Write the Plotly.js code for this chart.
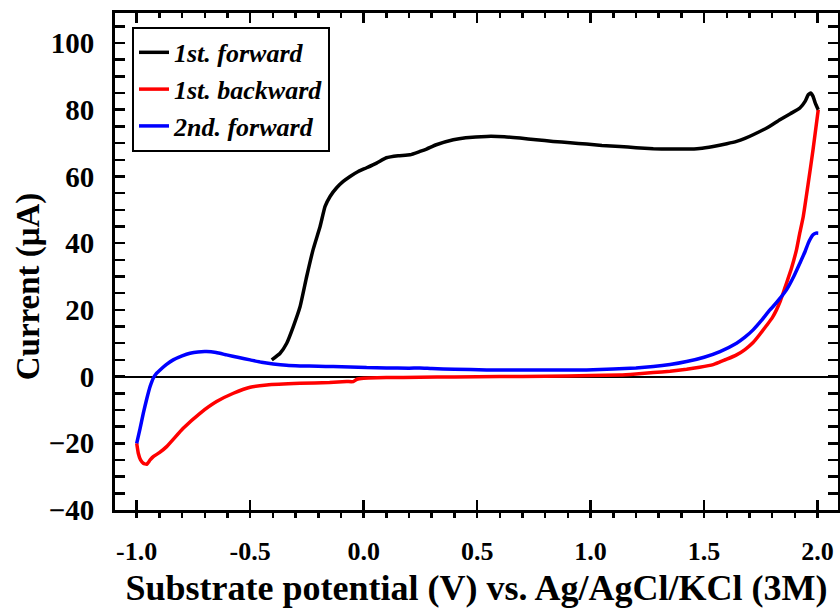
<!DOCTYPE html>
<html>
<head>
<meta charset="utf-8">
<script src="https://cdn.plot.ly/plotly-3.0.1.min.js"></script>
<style>html,body{margin:0;padding:0;background:#fff;}#chart{width:840px;height:614px;}</style>
</head>
<body>
<div id="chart"></div>
<script>
// 1st forward scan (black)
var fwd1X = [-0.405, -0.368, -0.339, -0.31, -0.28, -0.251, -0.223, -0.192, -0.17, -0.148, -0.119, -0.09, -0.06, -0.024, 0.013, 0.057, 0.10, 0.152, 0.204, 0.248, 0.277, 0.32, 0.395, 0.45, 0.542, 0.62, 0.689, 0.76, 0.835, 0.91, 0.982, 1.05, 1.129, 1.2, 1.276, 1.35, 1.423, 1.48, 1.54, 1.6, 1.643, 1.68, 1.716, 1.78, 1.834, 1.88, 1.922, 1.945, 1.959, 1.97, 1.98, 1.99, 2.003];
var fwd1Y = [5.0, 7.0, 10, 15, 21, 30, 38, 45, 51, 54, 56.6, 58.5, 60, 61.5, 62.6, 64, 65.6, 66.2, 66.5, 67.5, 68.2, 69.5, 71, 71.6, 72, 71.9, 71.5, 71, 70.5, 70.1, 69.7, 69.3, 69, 68.6, 68.3, 68.2, 68.2, 68.4, 69, 69.8, 70.5, 71.4, 72.5, 74.7, 77, 78.8, 80.5, 82.5, 84.5, 85, 84, 82, 80];
// 1st backward scan (red)
var bwd1X = [2.003, 1.98, 1.959, 1.937, 1.92, 1.907, 1.885, 1.863, 1.848, 1.834, 1.819, 1.8, 1.775, 1.745, 1.716, 1.68, 1.643, 1.6, 1.57, 1.54, 1.48, 1.423, 1.35, 1.276, 1.2, 1.129, 1.0, 0.8, 0.6, 0.4, 0.248, 0.1, 0.0, -0.03, -0.046, -0.075, -0.15, -0.28, -0.427, -0.5, -0.574, -0.648, -0.721, -0.795, -0.868, -0.9, -0.927, -0.941, -0.956, -0.971, -0.983, -0.993, -1.0];
var bwd1Y = [80, 68, 58, 48, 42.5, 38, 32.5, 28, 25, 22.3, 20, 17.6, 15.3, 12.6, 10.2, 8.1, 6.5, 5.2, 4.4, 3.6, 2.8, 2.2, 1.6, 1.2, 0.8, 0.5, 0.3, 0.1, 0.0, -0.1, -0.2, -0.3, -0.5, -0.8, -1.5, -1.5, -1.8, -2, -2.5, -3.2, -5, -7.5, -11, -15.5, -21, -22.8, -24, -25, -26.3, -26, -25, -23, -20];
// 2nd forward scan (blue)
var fwd2X = [-1.0, -0.985, -0.971, -0.955, -0.941, -0.927, -0.912, -0.897, -0.87, -0.839, -0.8, -0.765, -0.73, -0.692, -0.65, -0.604, -0.55, -0.5, -0.45, -0.398, -0.34, -0.28, -0.2, -0.134, -0.06, 0.013, 0.1, 0.2, 0.248, 0.3, 0.4, 0.542, 0.7, 0.85, 0.982, 1.1, 1.2, 1.276, 1.35, 1.423, 1.5, 1.57, 1.643, 1.68, 1.716, 1.75, 1.79, 1.804, 1.835, 1.863, 1.895, 1.922, 1.945, 1.959, 1.97, 1.98, 1.993, 2.003];
var fwd2Y = [-20, -15.5, -11, -6.5, -3, -0.5, 1, 2, 3.6, 5, 6.2, 7, 7.4, 7.5, 7.2, 6.5, 5.7, 5, 4.3, 3.8, 3.4, 3.2, 3.1, 3, 2.9, 2.7, 2.6, 2.5, 2.6, 2.4, 2.2, 2, 2, 2, 2, 2.3, 2.6, 3, 3.6, 4.5, 5.8, 7.5, 10, 11.8, 14, 16.6, 20, 21, 23.5, 26, 30, 34, 37.5, 40, 41.5, 42.5, 43, 43];

var seriesNames = ['1st. forward', '1st. backward', '2nd. forward'];
var xTickVals = [-1.0, -0.5, 0.0, 0.5, 1.0, 1.5, 2.0];
var yTickVals = [-40, -20, 0, 20, 40, 60, 80, 100];
var xTitle = 'Substrate potential (V) vs. Ag/AgCl/KCl (3M)';
var yTitle = 'Current (μA)';

var FONT = 'Liberation Serif';

var traces = [
  {x: bwd1X, y: bwd1Y, name: seriesNames[1], mode: 'lines', line: {color: '#ff0000', width: 3.5, shape: 'spline', smoothing: 0.4}, legendrank: 2},
  {x: fwd2X, y: fwd2Y, name: seriesNames[2], mode: 'lines', line: {color: '#0000ff', width: 3.5, shape: 'spline', smoothing: 0.4}, legendrank: 3},
  {x: fwd1X, y: fwd1Y, name: seriesNames[0], mode: 'lines', line: {color: '#000000', width: 3.5, shape: 'spline', smoothing: 0.4}, legendrank: 1}
];

var xr = [-1.0956, 2.09];
var layout = {
  width: 840, height: 614,
  margin: {l: 115, r: 2.3, t: 13, b: 104},
  paper_bgcolor: '#fff', plot_bgcolor: '#fff',
  showlegend: true,
  legend: {
    x: 0.0235, y: 0.972, xanchor: 'left', yanchor: 'top',
    bordercolor: '#000', borderwidth: 2, bgcolor: '#fff',
    font: {family: FONT, size: 26, color: '#000', weight: 'bold', style: 'italic'},
    traceorder: 'normal'
  },
  xaxis: {
    range: xr, tickvals: xTickVals, ticktext: xTickVals.map(function(v){return v.toFixed(1);}),
    ticks: 'inside', ticklen: 10, tickwidth: 2.5, tickcolor: '#000',
    minor: {dtick: 0.1, tick0: -1.0, ticks: 'outside', ticklen: 5, tickwidth: 2.5, tickcolor: '#000', showgrid: false},
    showline: true, linewidth: 3, linecolor: '#000', mirror: true,
    showgrid: false, zeroline: false,
    tickfont: {family: FONT, size: 26, color: '#000', weight: 'bold'},
    ticklabelstandoff: 16,
    title: {text: xTitle, font: {family: FONT, size: 36, color: '#000', weight: 'bold'}, standoff: 10}
  },
  xaxis2: {
    range: xr, overlaying: 'x', side: 'top', anchor: 'y',
    tickvals: xTickVals, showticklabels: false,
    ticks: 'inside', ticklen: 10, tickwidth: 2.5, tickcolor: '#000',
    minor: {dtick: 0.1, tick0: -1.0, ticks: 'inside', ticklen: 5, tickwidth: 2.5, tickcolor: '#000', showgrid: false},
    showline: false, showgrid: false, zeroline: false
  },
  yaxis: {
    range: [-40, 109], tickvals: yTickVals,
    ticks: 'inside', ticklen: 10, tickwidth: 2.5, tickcolor: '#000',
    minor: {dtick: 5, tick0: 0, ticks: 'inside', ticklen: 5, tickwidth: 2.5, tickcolor: '#000', showgrid: false},
    showline: true, linewidth: 3, linecolor: '#000', mirror: 'allticks',
    showgrid: false, zeroline: true, zerolinecolor: '#000', zerolinewidth: 2,
    tickfont: {family: FONT, size: 29, color: '#000', weight: 'bold'},
    ticklabelstandoff: 12
  },
  annotations: [{
    text: yTitle, textangle: -90, showarrow: false,
    xref: 'paper', yref: 'paper', x: -0.1204, y: 0.45, xanchor: 'center', yanchor: 'middle',
    font: {family: FONT, size: 33, color: '#000', weight: 'bold'}
  }]
};

// invisible helper trace so the mirrored top axis is drawn
traces.push({x: [xr[0]], y: [0], xaxis: 'x2', yaxis: 'y', mode: 'markers', marker: {opacity: 0}, showlegend: false, hoverinfo: 'skip'});

Plotly.newPlot('chart', traces, layout, {displayModeBar: false, staticPlot: true});
</script>
</body>
</html>
